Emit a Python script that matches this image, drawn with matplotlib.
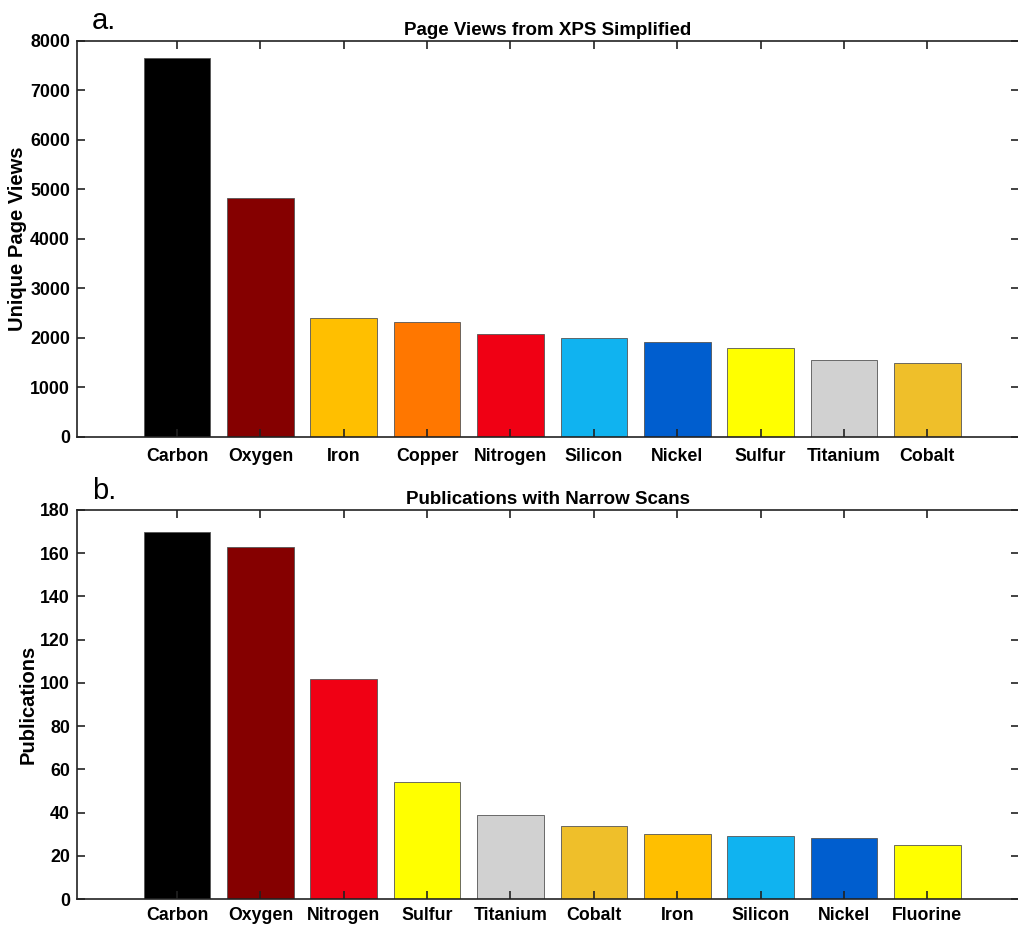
import matplotlib.pyplot as plt
import numpy as np

plt.rcParams["font.family"] = ["Liberation Sans", "DejaVu Sans"]

# panel a
views_elements = ["Carbon", "Oxygen", "Iron", "Copper", "Nitrogen",
                  "Silicon", "Nickel", "Sulfur", "Titanium", "Cobalt"]
views_values = [7650, 4830, 2410, 2330, 2080, 2000, 1920, 1800, 1560, 1490]

# panel b
pub_elements = ["Carbon", "Oxygen", "Nitrogen", "Sulfur", "Titanium",
                "Cobalt", "Iron", "Silicon", "Nickel", "Fluorine"]
pub_values = [170, 163, 102, 54, 39, 34, 30, 29, 28, 25]

COLORS = {
    "Carbon":   "#000000",
    "Oxygen":   "#850000",
    "Iron":     "#FFBF00",
    "Copper":   "#FF7700",
    "Nitrogen": "#F00014",
    "Silicon":  "#10B3F0",
    "Nickel":   "#005ECF",
    "Sulfur":   "#FFFF00",
    "Titanium": "#D1D1D1",
    "Cobalt":   "#EFBF2A",
    "Fluorine": "#FFFF00",
}

W, H = 1018, 926
fig = plt.figure(figsize=(W / 100, H / 100), dpi=100)


def panel(rect, names, vals, ymax, step, title, ylabel, letter, xpad):
    left, top, right, bottom = rect
    ax = fig.add_axes([left / W, 1 - bottom / H, (right - left) / W, (bottom - top) / H])
    x = np.arange(1, len(names) + 1)
    ax.bar(x, vals, width=0.8, color=[COLORS[n] for n in names],
           edgecolor="#555555", linewidth=0.6, zorder=1)
    ax.set_xlim(-0.2, 11.1)
    ax.set_ylim(0, ymax)
    ax.set_xticks(x)
    ax.set_xticklabels(names, fontsize=12.8, fontweight="bold")
    ax.set_yticks(np.arange(0, ymax + 1, step))
    ax.tick_params(axis="y", labelsize=12.8, pad=5)
    ax.tick_params(axis="x", pad=xpad)
    for lab in ax.get_yticklabels():
        lab.set_fontweight("bold")
    ax.tick_params(direction="in", length=6, width=1.2, color="#222222",
                   top=True, right=True)
    for sp in ax.spines.values():
        sp.set_linewidth(1.2)
        sp.set_color("#222222")
        sp.set_zorder(3)
    ax.set_title(title, fontsize=13.5, fontweight="bold", pad=4)
    ax.set_ylabel(ylabel, fontsize=14.5, fontweight="bold", labelpad=2)
    ax.text(0.016, 1 + 11.5 / (bottom - top), letter, transform=ax.transAxes,
            fontsize=21, ha="left", va="baseline")
    return ax


panel((77, 41, 1019, 437), views_elements, views_values, 8000, 1000,
      "Page Views from XPS Simplified", "Unique Page Views", "a.", 8)
panel((77, 510, 1019, 899), pub_elements, pub_values, 180, 20,
      "Publications with Narrow Scans", "Publications", "b.", 6)

fig.savefig("out.png", dpi=100)
